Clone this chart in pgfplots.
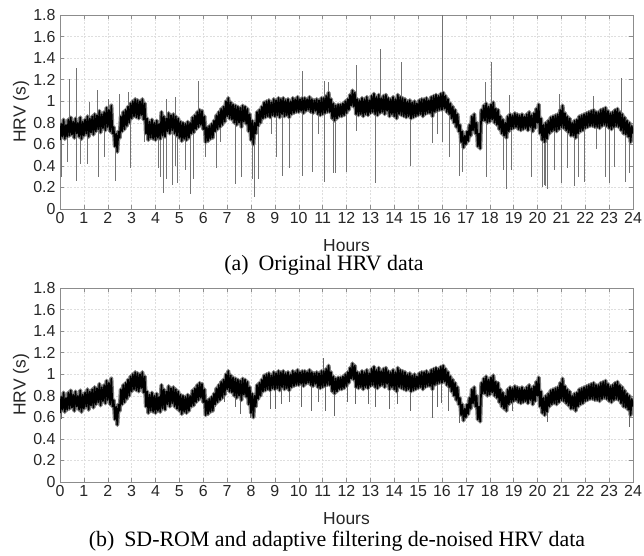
\documentclass[border=0pt]{standalone}
\usepackage{pgfplots}
\pgfplotsset{compat=1.18}
\usepackage{pgfplotstable}
\usepackage{fontspec}
\setmainfont{Liberation Serif}
\setsansfont{Liberation Sans}

% base HRV band, one value every 0.05 h (x = index/20)
\pgfplotstableread[row sep=\\]{y\\
0.64\\0.79\\0.67\\0.83\\0.65\\0.78\\0.67\\0.83\\0.68\\0.85\\0.69\\0.81\\0.66\\0.84\\0.70\\0.80\\0.67\\0.85\\0.65\\0.81\\
0.68\\0.83\\0.70\\0.86\\0.67\\0.84\\0.71\\0.86\\0.69\\0.88\\0.72\\0.87\\0.74\\0.91\\0.71\\0.88\\0.75\\0.90\\0.73\\0.94\\
0.76\\0.92\\0.72\\0.96\\0.70\\0.76\\0.58\\0.70\\0.53\\0.72\\0.66\\0.86\\0.72\\0.90\\0.74\\0.92\\0.77\\0.95\\0.80\\0.98\\
0.84\\1.00\\0.86\\1.02\\0.85\\1.01\\0.84\\1.00\\0.87\\1.02\\0.83\\0.98\\0.70\\0.84\\0.64\\0.81\\0.66\\0.83\\0.65\\0.80\\
0.64\\0.82\\0.66\\0.79\\0.65\\0.90\\0.68\\0.86\\0.67\\0.84\\0.72\\0.89\\0.70\\0.87\\0.73\\0.88\\0.70\\0.86\\0.68\\0.84\\
0.66\\0.81\\0.63\\0.80\\0.65\\0.79\\0.64\\0.81\\0.66\\0.80\\0.70\\0.85\\0.71\\0.87\\0.74\\0.90\\0.76\\0.92\\0.78\\0.91\\
0.74\\0.86\\0.62\\0.76\\0.63\\0.77\\0.65\\0.79\\0.66\\0.82\\0.72\\0.87\\0.74\\0.90\\0.76\\0.93\\0.78\\0.95\\0.81\\1.00\\
0.86\\1.03\\0.84\\0.99\\0.83\\0.97\\0.80\\0.96\\0.78\\0.95\\0.80\\0.94\\0.76\\0.96\\0.81\\0.95\\0.79\\0.93\\0.72\\0.88\\
0.64\\0.82\\0.60\\0.80\\0.70\\0.90\\0.77\\0.92\\0.80\\0.95\\0.84\\0.99\\0.85\\1.00\\0.86\\1.01\\0.85\\0.99\\0.87\\1.02\\
0.86\\1.01\\0.87\\1.03\\0.85\\1.02\\0.88\\1.03\\0.86\\1.01\\0.87\\1.02\\0.85\\1.00\\0.88\\1.03\\0.89\\1.02\\0.90\\1.04\\
0.90\\1.02\\0.91\\1.03\\0.89\\1.03\\0.91\\1.02\\0.92\\1.04\\0.90\\1.02\\0.89\\1.01\\0.91\\1.02\\0.88\\1.01\\0.87\\1.03\\
0.88\\1.03\\0.89\\1.05\\0.90\\1.08\\0.90\\1.02\\0.84\\0.98\\0.82\\0.96\\0.84\\0.97\\0.86\\0.97\\0.86\\0.98\\0.87\\1.00\\
0.89\\1.02\\0.92\\1.06\\0.96\\1.10\\0.95\\1.08\\0.88\\1.02\\0.87\\1.01\\0.88\\1.03\\0.86\\1.02\\0.88\\1.04\\0.87\\1.01\\
0.89\\1.05\\0.90\\1.07\\0.88\\1.04\\0.87\\1.06\\0.89\\1.03\\0.90\\1.05\\0.88\\1.06\\0.91\\1.03\\0.86\\1.02\\0.88\\1.04\\
0.86\\1.02\\0.84\\1.06\\0.88\\1.04\\0.87\\1.03\\0.86\\1.02\\0.85\\1.00\\0.86\\1.01\\0.84\\0.99\\0.85\\1.00\\0.86\\0.98\\
0.87\\1.01\\0.88\\1.02\\0.86\\1.02\\0.88\\1.03\\0.89\\1.01\\0.89\\1.04\\0.86\\1.05\\0.90\\1.06\\0.91\\1.05\\0.92\\1.07\\
0.92\\1.08\\0.93\\1.05\\0.90\\1.02\\0.88\\0.98\\0.84\\0.95\\0.80\\0.92\\0.76\\0.88\\0.72\\0.78\\0.62\\0.72\\0.57\\0.68\\
0.60\\0.72\\0.63\\0.78\\0.68\\0.86\\0.73\\0.88\\0.70\\0.80\\0.58\\0.70\\0.56\\0.92\\0.82\\0.96\\0.82\\0.98\\0.80\\0.95\\
0.81\\0.97\\0.83\\0.99\\0.80\\0.93\\0.78\\0.92\\0.74\\0.86\\0.70\\0.83\\0.68\\0.80\\0.66\\0.86\\0.72\\0.88\\0.74\\0.87\\
0.75\\0.89\\0.76\\0.88\\0.74\\0.87\\0.73\\0.88\\0.74\\0.86\\0.75\\0.88\\0.73\\0.90\\0.76\\0.87\\0.72\\0.89\\0.75\\0.93\\
0.80\\0.97\\0.70\\0.84\\0.64\\0.78\\0.62\\0.80\\0.65\\0.82\\0.70\\0.85\\0.72\\0.86\\0.73\\0.87\\0.72\\0.88\\0.74\\0.92\\
0.76\\0.96\\0.75\\0.89\\0.73\\0.86\\0.71\\0.84\\0.68\\0.80\\0.68\\0.82\\0.66\\0.83\\0.70\\0.86\\0.72\\0.87\\0.73\\0.88\\
0.75\\0.89\\0.76\\0.90\\0.77\\0.91\\0.77\\0.92\\0.76\\0.90\\0.76\\0.90\\0.75\\0.92\\0.77\\0.93\\0.78\\0.94\\0.77\\0.91\\
0.75\\0.89\\0.74\\0.90\\0.76\\0.92\\0.77\\0.93\\0.76\\0.90\\0.73\\0.88\\0.70\\0.85\\0.69\\0.82\\0.67\\0.80\\0.62\\0.77\\
0.70\\
}\base

% artefact spikes of the raw recording: base, tip, break
\pgfplotstableread[row sep=\\]{x y\\
0.05 0.72\\0.05 0.30\\nan nan\\ 0.30 0.74\\0.30 0.44\\nan nan\\ 0.39 0.75\\0.39 1.21\\nan nan\\
0.67 0.75\\0.67 1.31\\nan nan\\ 0.69 0.75\\0.69 0.26\\nan nan\\ 0.84 0.74\\0.84 0.42\\nan nan\\
1.15 0.77\\1.15 0.42\\nan nan\\ 1.23 0.78\\1.23 0.99\\nan nan\\ 1.58 0.80\\1.58 1.10\\nan nan\\
1.62 0.80\\1.62 0.30\\nan nan\\ 1.86 0.82\\1.86 0.48\\nan nan\\ 2.02 0.84\\2.02 1.02\\nan nan\\
2.32 0.66\\2.32 0.26\\nan nan\\ 2.50 0.80\\2.50 1.07\\nan nan\\ 2.86 0.86\\2.86 1.09\\nan nan\\
2.93 0.88\\2.93 0.38\\nan nan\\ 3.55 0.85\\3.55 0.62\\nan nan\\ 4.10 0.73\\4.10 0.38\\nan nan\\
4.20 0.76\\4.20 0.30\\nan nan\\ 4.33 0.76\\4.33 0.15\\nan nan\\ 4.44 0.78\\4.44 1.02\\nan nan\\
4.46 0.78\\4.46 0.28\\nan nan\\ 4.70 0.80\\4.70 0.22\\nan nan\\ 4.82 0.80\\4.82 1.04\\nan nan\\
4.85 0.80\\4.85 0.40\\nan nan\\ 4.93 0.78\\4.93 0.24\\nan nan\\ 5.24 0.73\\5.24 0.36\\nan nan\\
5.45 0.76\\5.45 0.14\\nan nan\\ 5.60 0.78\\5.60 0.28\\nan nan\\ 5.80 0.84\\5.80 1.19\\nan nan\\
6.10 0.72\\6.10 0.48\\nan nan\\ 6.55 0.80\\6.55 0.38\\nan nan\\ 6.73 0.85\\6.73 0.62\\nan nan\\
7.36 0.90\\7.36 0.23\\nan nan\\ 7.61 0.88\\7.61 0.30\\nan nan\\ 8.06 0.74\\8.06 0.28\\nan nan\\
8.13 0.76\\8.13 0.11\\nan nan\\ 8.31 0.84\\8.31 0.28\\nan nan\\ 8.83 0.93\\8.83 0.70\\nan nan\\
9.06 0.94\\9.06 0.48\\nan nan\\ 9.29 0.95\\9.29 0.31\\nan nan\\ 9.62 0.94\\9.62 0.38\\nan nan\\
10.13 0.96\\10.13 1.28\\nan nan\\ 10.15 0.96\\10.15 0.31\\nan nan\\ 10.57 0.96\\10.57 0.34\\nan nan\\
10.81 0.95\\10.81 0.70\\nan nan\\ 11.06 0.95\\11.06 1.19\\nan nan\\ 11.08 0.95\\11.08 0.25\\nan nan\\
11.24 0.97\\11.24 1.18\\nan nan\\ 11.45 0.92\\11.45 0.33\\nan nan\\ 11.52 0.90\\11.52 0.33\\nan nan\\
12.00 0.96\\12.00 0.34\\nan nan\\ 12.39 0.98\\12.39 1.34\\nan nan\\ 12.41 0.98\\12.41 0.72\\nan nan\\
13.22 0.96\\13.22 0.24\\nan nan\\ 13.42 0.97\\13.42 1.48\\nan nan\\ 14.29 0.96\\14.29 1.36\\nan nan\\
14.69 0.92\\14.69 0.40\\nan nan\\ 15.60 0.96\\15.60 0.61\\nan nan\\ 15.79 0.98\\15.79 0.70\\nan nan\\
16.00 0.99\\16.00 1.80\\nan nan\\ 16.02 0.99\\16.02 0.62\\nan nan\\ 16.30 0.94\\16.30 0.48\\nan nan\\
16.72 0.72\\16.72 0.31\\nan nan\\ 16.83 0.68\\16.83 0.34\\nan nan\\ 17.83 0.90\\17.83 1.18\\nan nan\\
17.85 0.90\\17.85 0.30\\nan nan\\ 18.07 0.88\\18.07 1.36\\nan nan\\ 18.57 0.76\\18.57 0.36\\nan nan\\
18.68 0.77\\18.68 0.19\\nan nan\\ 18.80 0.78\\18.80 1.06\\nan nan\\ 18.90 0.80\\18.90 0.36\\nan nan\\
19.72 0.80\\19.72 0.30\\nan nan\\ 20.20 0.72\\20.20 0.20\\nan nan\\ 20.27 0.72\\20.27 0.22\\nan nan\\
20.33 0.72\\20.33 0.21\\nan nan\\ 20.43 0.74\\20.43 0.19\\nan nan\\ 20.71 0.80\\20.71 0.36\\nan nan\\
20.92 0.82\\20.92 1.07\\nan nan\\ 20.98 0.82\\20.98 0.24\\nan nan\\ 21.26 0.79\\21.26 0.38\\nan nan\\
21.55 0.75\\21.55 0.21\\nan nan\\ 21.72 0.78\\21.72 0.30\\nan nan\\ 21.96 0.82\\21.96 0.25\\nan nan\\
22.35 0.84\\22.35 1.05\\nan nan\\ 22.45 0.83\\22.45 0.56\\nan nan\\ 22.84 0.85\\22.84 0.30\\nan nan\\
22.99 0.83\\22.99 0.24\\nan nan\\ 23.21 0.84\\23.21 0.39\\nan nan\\ 23.49 0.82\\23.49 1.22\\nan nan\\
23.67 0.78\\23.67 0.25\\nan nan\\ 23.85 0.74\\23.85 0.33\\nan nan\\
}\spikes

% short residual dips that remain after de-noising
\pgfplotstableread[row sep=\\]{x y\\
0.05 0.72\\0.05 0.58\\nan nan\\ 6.52 0.80\\6.52 0.70\\nan nan\\ 6.87 0.88\\6.87 0.74\\nan nan\\
7.36 0.90\\7.36 0.70\\nan nan\\ 7.57 0.88\\7.57 0.63\\nan nan\\ 7.99 0.76\\7.99 0.59\\nan nan\\
8.83 0.93\\8.83 0.68\\nan nan\\ 9.04 0.94\\9.04 0.68\\nan nan\\ 9.29 0.95\\9.29 0.72\\nan nan\\
9.62 0.94\\9.62 0.74\\nan nan\\ 10.13 0.96\\10.13 0.70\\nan nan\\ 10.54 0.96\\10.54 0.66\\nan nan\\
10.81 0.95\\10.81 0.74\\nan nan\\ 11.02 0.95\\11.02 1.15\\nan nan\\ 11.10 0.95\\11.10 0.66\\nan nan\\
11.48 0.90\\11.48 0.61\\nan nan\\ 12.04 0.96\\12.04 0.74\\nan nan\\ 12.38 0.98\\12.38 0.72\\nan nan\\
12.93 0.96\\12.93 0.72\\nan nan\\ 13.21 0.96\\13.21 0.70\\nan nan\\ 13.81 0.95\\13.81 0.68\\nan nan\\
14.12 0.95\\14.12 0.72\\nan nan\\ 14.68 0.92\\14.68 0.66\\nan nan\\ 15.58 0.96\\15.58 0.59\\nan nan\\
15.79 0.98\\15.79 0.70\\nan nan\\ 15.97 0.99\\15.97 0.73\\nan nan\\ 16.28 0.95\\16.28 0.66\\nan nan\\
16.72 0.72\\16.72 0.55\\nan nan\\ 17.55 0.70\\17.55 0.56\\nan nan\\ 18.96 0.80\\18.96 0.66\\nan nan\\
20.40 0.74\\20.40 0.56\\nan nan\\ 23.85 0.74\\23.85 0.51\\nan nan\\
}\dips

\pgfplotsset{hrv/.style={
  scale only axis, width=573bp, height=194bp, anchor=south west,
  xmin=0, xmax=24, ymin=0, ymax=1.8,
  xtick={0,1,...,24}, ytick={0,0.2,0.4,0.6,0.8,1,1.2,1.4,1.6,1.8},
  grid=major, grid style={dash pattern=on 2pt off 1.5pt, black!13, line width=0.4pt},
  axis line style={black!45}, tick style={black!45, line width=0.5pt},
  tick align=inside, major tick length=4bp,
  ticklabel style={font=\sffamily\fontsize{16}{18}\selectfont, text=black!85},
  /pgf/number format/assume math mode=true,
  /pgf/number format/fixed,
  yticklabel style={xshift=-1bp},
  xlabel={Hours}, ylabel={HRV (s)},
  label style={font=\sffamily\fontsize{17.5}{20}\selectfont, text=black!85},
  xlabel style={at={(axis description cs:0.5,-0.19)}, anchor=center},
  ylabel style={at={(axis description cs:-0.068,0.5)}, anchor=center},
  unbounded coords=jump,
  band under/.style={black!50, line width=4.2pt, line join=round},
  band/.style={black, line width=1.6pt, line join=round},
}}

\begin{document}
\begin{tikzpicture}
\useasboundingbox (0,0) rectangle (644bp,556bp);
\begin{axis}[hrv, at={(60bp,347bp)}]
\addplot[band under] table[x expr=\coordindex/20, y=y] {\base};
\addplot[black!55, line width=0.6pt] table[x=x, y=y] {\spikes};
\addplot[band] table[x expr=\coordindex/20, y=y] {\base};
\end{axis}
\node[anchor=base, font=\fontsize{22}{26}\selectfont] at (324bp,285bp) {(a)\hspace{0.45em}Original HRV data};
\begin{axis}[hrv, at={(60bp,74bp)}]
\addplot[band under] table[x expr=\coordindex/20, y=y] {\base};
\addplot[black!60, line width=0.8pt] table[x=x, y=y] {\dips};
\addplot[band] table[x expr=\coordindex/20, y=y] {\base};
\end{axis}
\node[anchor=base, font=\fontsize{22}{26}\selectfont] at (337bp,10bp) {(b)\hspace{0.45em}SD-ROM and adaptive filtering de-noised HRV data};
\end{tikzpicture}
\end{document}
